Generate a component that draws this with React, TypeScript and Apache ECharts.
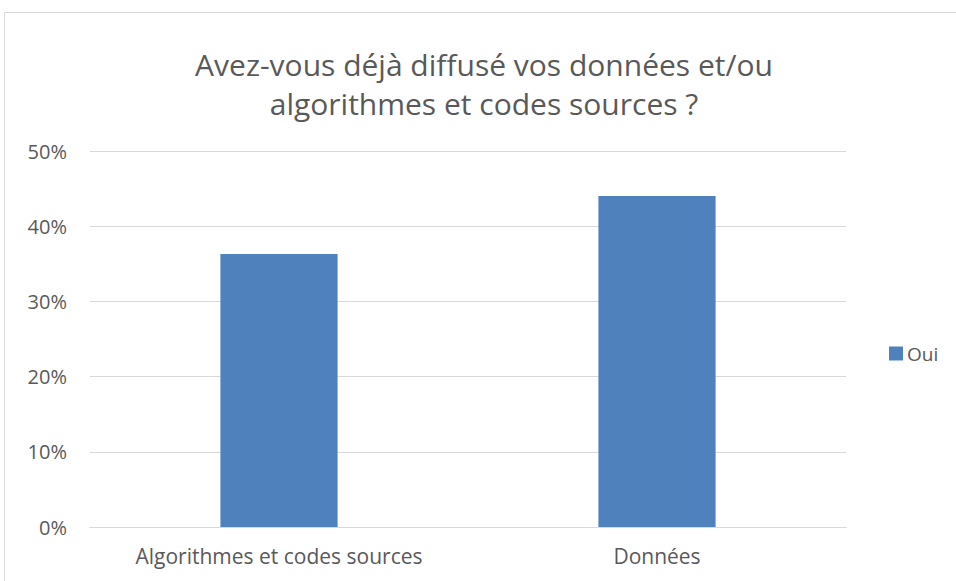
import React, { useEffect, useRef } from "react";
import * as echarts from "echarts";

const categories = ["Algorithmes et codes sources", "Données"];
const ouiValues = [36.3, 44.0];
const seriesName = "Oui";
const titleLines = ["Avez-vous déjà diffusé vos données et/ou", "algorithmes et codes sources ?"];

export default function App() {
  const ref = useRef<HTMLDivElement>(null);
  useEffect(() => {
    document.body.style.margin = "0";
    const chart = echarts.init(ref.current!, null, { renderer: "svg" });
    const font = "'Open Sans', 'Liberation Sans', sans-serif";
    chart.setOption({
      animation: false,
      backgroundColor: "#ffffff",
      graphic: [
        {
          type: "rect",
          shape: { x: 4.5, y: 12.5, width: 1000, height: 1000 },
          style: { fill: "none", stroke: "#d9d9d9", lineWidth: 1 },
          silent: true,
        },
      ],
      title: {
        text: titleLines.join("\n"),
        left: 479,
        textAlign: "center",
        top: 40,
        textStyle: {
          fontFamily: font,
          fontSize: 30,
          fontWeight: "normal",
          color: "#595959",
          lineHeight: 39,
        },
      },
      legend: {
        data: [seriesName],
        orient: "vertical",
        left: 884,
        top: 339,
        itemWidth: 14,
        itemHeight: 14,
        itemGap: 6,
        icon: "rect",
        textStyle: { fontFamily: font, fontSize: 19, color: "#595959", padding: [0, 0, 0, -1] },
      },
      grid: { left: 90, right: 110, top: 151, bottom: 54, containLabel: false },
      xAxis: {
        type: "category",
        data: categories,
        axisLine: { lineStyle: { color: "#d9d9d9", width: 1 } },
        axisTick: { show: false },
        axisLabel: { fontFamily: font, fontSize: 21, color: "#595959", margin: 18 },
      },
      yAxis: {
        type: "value",
        min: 0,
        max: 50,
        interval: 10,
        axisLine: { show: false },
        axisTick: { show: false },
        splitLine: { lineStyle: { color: "#d9d9d9", width: 1 } },
        axisLabel: {
          fontFamily: font,
          fontSize: 20,
          color: "#595959",
          margin: 23,
          formatter: (v: number) => `${v}%`,
        },
      },
      series: [
        {
          name: seriesName,
          type: "bar",
          data: ouiValues,
          barWidth: "31%",
          itemStyle: { color: "#4f81bd" },
        },
      ],
    });
    return () => chart.dispose();
  }, []);
  return <div ref={ref} style={{ width: 956, height: 581 }} />;
}
